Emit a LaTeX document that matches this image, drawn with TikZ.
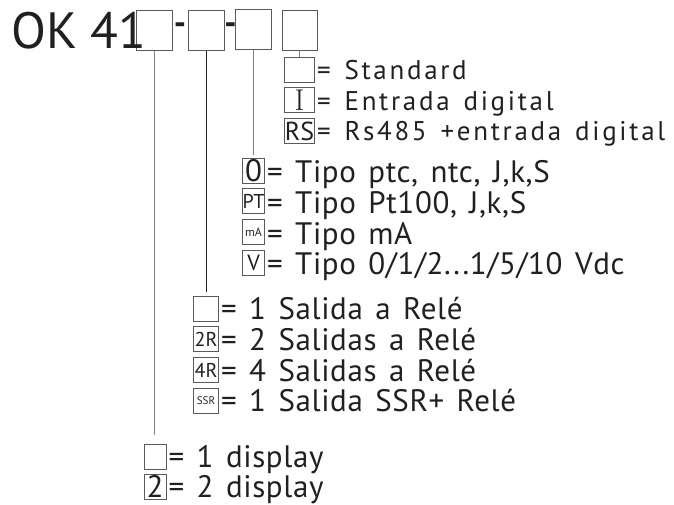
\documentclass[tikz,border=0pt]{standalone}
\usepackage{fontspec}
\newfontfamily\keyfont[LetterSpace=2,WordSpace=1.4]{PT Sans}
\newfontfamily\widefont[LetterSpace=10,WordSpace=1.4]{PT Sans}
\newfontfamily\modelfont{PT Sans}
\usetikzlibrary{positioning}
\definecolor{ink}{HTML}{231F20}
\definecolor{framegray}{HTML}{5A5A5A}
\definecolor{leadgray}{HTML}{808080}
\tikzset{
    slot/.style =   {rectangle,
                    draw=framegray,
                    line width=1pt,
                    inner sep=0pt,
                    minimum width=36pt,
                    minimum height=40pt},
    key/.style =    {rectangle,
                    draw=framegray,
                    line width=0.8pt,
                    inner sep=0pt,
                    text=ink,
                    minimum height=25pt,
                    font=\modelfont\fontsize{20}{20}\selectfont},
    desc/.style =   {anchor=base west,
                    inner sep=0pt,
                    text=ink,
                    font=\keyfont\fontsize{31}{31}\selectfont},
    hyph/.style =   {text=ink,
                    inner sep=0pt,
                    font=\modelfont\bfseries\fontsize{34}{34}\selectfont},
    leader/.style = {draw=leadgray,
                    line width=1pt}}

\begin{document}
\begin{tikzpicture}[x=1pt,y=-1pt]
                \useasboundingbox (0,0) rectangle (674,505);
                % model code
                \node[slot]         (s1) at (154,31)      {};
                \node[slot]         (s2) at (206,31)      {};
                \node[slot]         (s3) at (253.5,30)    {};
                \node[slot,minimum width=35pt] (s4) at (299.5,31) {};
                \node[anchor=base west,inner sep=0pt,text=ink,font=\modelfont\fontsize{51}{51}\selectfont]
                                    (model) at (11,49)    {OK 41};
                \node[hyph]         (dash1) at (180,29)   {-};
                \node[hyph]         (dash2) at (230.5,29) {-};

                % input option
                \node[key,minimum width=30pt]   (a1) at (299.5,69.5)  {};
                \node[key,minimum width=30pt,font=\rmfamily\fontsize{30}{30}\selectfont]
                                                (a2) [below=5pt of a1] {I};
                \node[key,minimum width=30pt,font=\modelfont\fontsize{26}{26}\selectfont]
                                                (a3) [below=5pt of a2] {RS};

                % sensor option
                \node[key,minimum width=22pt,font=\modelfont\fontsize{31}{31}\selectfont]
                                                (b1) at (253.5,170.5) {0};
                \node[key,minimum width=22pt,font=\modelfont\fontsize{20}{20}\selectfont]
                                                (b2) [below=5pt of b1] {PT};
                \node[key,minimum width=22pt,font=\modelfont\fontsize{12}{12}\selectfont]
                                                (b3) [below=5pt of b2] {mA};
                \node[key,minimum width=22pt,font=\modelfont\fontsize{22}{22}\selectfont]
                                                (b4) [below=5pt of b3] {V};

                % output option
                \node[key,minimum width=25pt]   (c1) at (206,308.5)   {};
                \node[key,minimum width=25pt]   (c2) [below=5pt of c1] {2R};
                \node[key,minimum width=25pt]   (c3) [below=5pt of c2] {4R};
                \node[key,minimum width=25pt,font=\modelfont\fontsize{11}{11}\selectfont]
                                                (c4) [below=5pt of c3] {SSR};

                % display option
                \node[key,minimum width=22pt]   (d1) at (155,457)     {};
                \node[key,minimum width=22pt,font=\modelfont\fontsize{31}{31}\selectfont]
                                                (d2) [below=4pt of d1] {2};

                % texts
                \node[desc,font=\widefont\fontsize{27}{27}\selectfont] (ta1) at ([xshift=2pt,yshift=3pt]a1.south east) {= Standard};
                \node[desc,font=\widefont\fontsize{27}{27}\selectfont] (ta2) at ([xshift=2pt,yshift=3pt]a2.south east) {= Entrada digital};
                \node[desc,font=\widefont\fontsize{27}{27}\selectfont] (ta3) at ([xshift=2pt,yshift=3pt]a3.south east) {= Rs485 +entrada digital};
                \node[desc] (tb1) at ([xshift=2pt,yshift=1pt]b1.south east) {= Tipo ptc, ntc, J,k,S};
                \node[desc] (tb2) at ([xshift=2pt,yshift=1pt]b2.south east) {= Tipo Pt100, J,k,S};
                \node[desc] (tb3) at ([xshift=2pt,yshift=1pt]b3.south east) {= Tipo mA};
                \node[desc] (tb4) at ([xshift=2pt,yshift=1pt]b4.south east) {= Tipo 0/1/2...1/5/10 Vdc};
                \node[desc] (tc1) at ([xshift=2pt,yshift=2pt]c1.south east) {= 1 Salida a Relé};
                \node[desc] (tc2) at ([xshift=2pt,yshift=2pt]c2.south east) {= 2 Salidas a Relé};
                \node[desc] (tc3) at ([xshift=2pt,yshift=2pt]c3.south east) {= 4 Salidas a Relé};
                \node[desc] (tc4) at ([xshift=2pt,yshift=2pt]c4.south east) {= 1 Salida SSR+ Relé};
                \node[desc,font=\keyfont\fontsize{31}{31}\selectfont] (td1) at ([xshift=2pt,yshift=2pt]d1.south east) {= 1 display};
                \node[desc,font=\keyfont\fontsize{31}{31}\selectfont] (td2) at ([xshift=2pt,yshift=2pt]d2.south east) {= 2 display};

                % leaders
                \draw[leader] (s4.south) -- (a1.north);
                \draw[leader] (s3.south) -- ([yshift=3pt]s3.south |- b1.north);
                \draw[leader,draw=ink] (s2.south) -- ([yshift=4pt]s2.south |- c1.north);
                \draw[leader] (s1.south) -- ([yshift=9pt]s1.south |- d1.north);
        \end{tikzpicture}
\end{document}
